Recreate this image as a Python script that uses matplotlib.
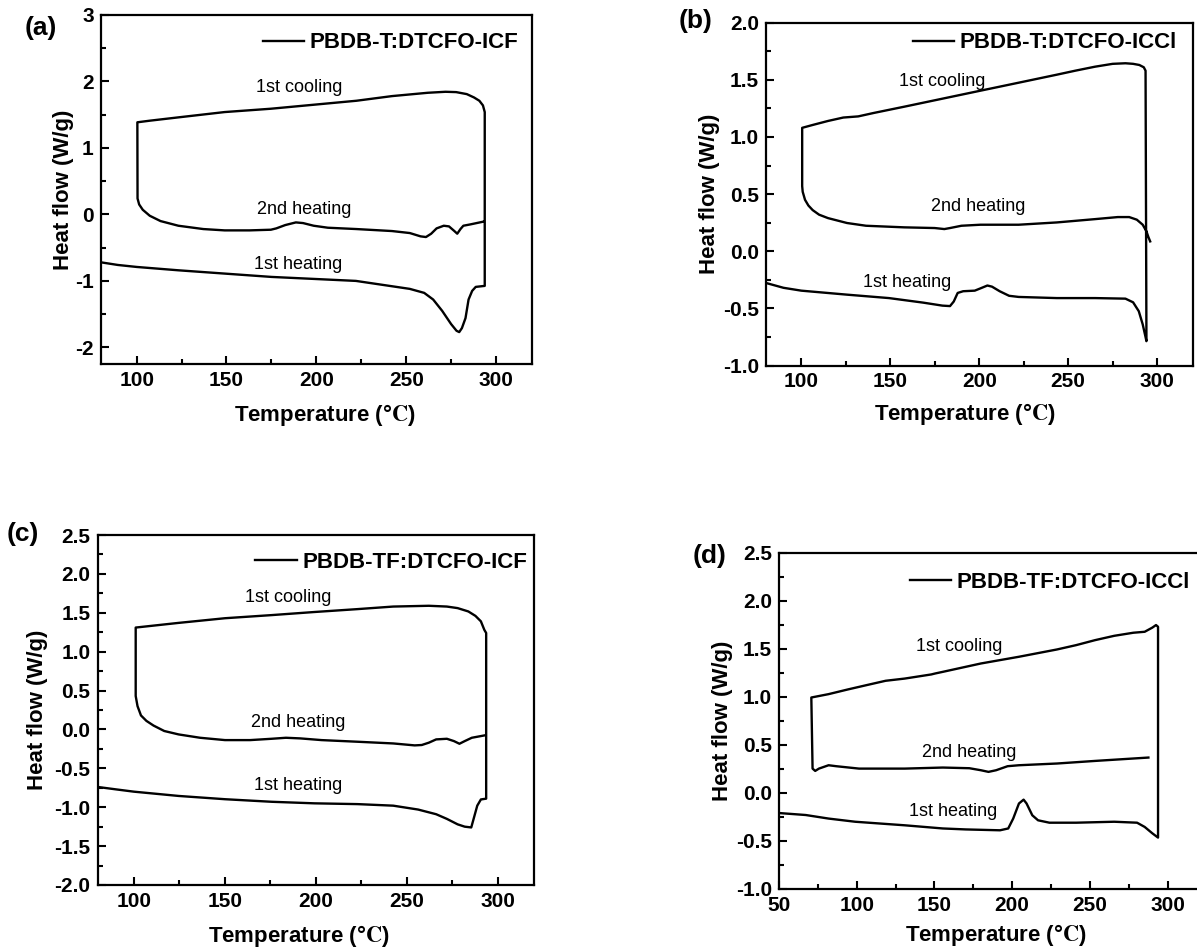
import numpy as np
import matplotlib
matplotlib.use('Agg')
import matplotlib.pyplot as plt
from matplotlib.ticker import MultipleLocator

plt.rcParams['font.family'] = ['Liberation Sans', 'DejaVu Sans']
plt.rcParams['font.weight'] = 'bold'
plt.rcParams['axes.labelweight'] = 'bold'
plt.rcParams['mathtext.fontset'] = 'stix'
plt.rcParams['axes.unicode_minus'] = False

# ---- (a) PBDB-T:DTCFO-ICF ----
a_h1_T = [80, 89.5, 100, 123, 149, 175, 198.5, 222, 242, 252, 260, 265, 270, 275, 278, 279.5, 281, 283, 284.7, 286.7, 288.7, 293.7]
a_h1_v = [-0.72, -0.76, -0.79, -0.84, -0.89, -0.94, -0.97, -1.0, -1.08, -1.12, -1.18, -1.28, -1.45, -1.65, -1.75, -1.77, -1.71, -1.56, -1.28, -1.15, -1.09, -1.075]
a_c_T = [293.7, 292.7, 290.7, 287.7, 283.7, 277.8, 271.9, 262, 242.1, 222.3, 198.5, 174.7, 149, 123.2, 107.3, 100.4]
a_c_v = [1.54, 1.64, 1.71, 1.76, 1.81, 1.84, 1.845, 1.83, 1.78, 1.71, 1.65, 1.59, 1.54, 1.46, 1.41, 1.386]
a_h2_T = [100.5, 101.4, 103.4, 107.3, 113.3, 123.2, 137.1, 149, 162.8, 174.7, 177.7, 182.7, 188.6, 192.6, 198.5, 206.4, 222.3, 242.1, 252, 258, 261, 263.9, 266.9, 270.9, 273.8, 276.8, 278.4, 280.2, 281.8, 285.7, 292.7]
a_h2_v = [0.24, 0.15, 0.07, -0.02, -0.10, -0.17, -0.22, -0.24, -0.24, -0.23, -0.21, -0.16, -0.12, -0.13, -0.17, -0.20, -0.22, -0.25, -0.28, -0.33, -0.34, -0.29, -0.21, -0.17, -0.18, -0.25, -0.29, -0.22, -0.17, -0.15, -0.11]

# ---- (b) PBDB-T:DTCFO-ICCl ----
b_h1_T = [80.7, 90, 100, 125.7, 149.3, 168.6, 179.3, 183.6, 185.7, 187.9, 191, 197.5, 200.7, 204.6, 207.2, 211.5, 216.8, 222.2, 243.6, 265.1, 282.2, 286.5, 289.7, 291.9, 293.4, 294]
b_h1_v = [-0.28, -0.32, -0.345, -0.38, -0.41, -0.45, -0.476, -0.48, -0.44, -0.365, -0.35, -0.345, -0.325, -0.30, -0.31, -0.35, -0.39, -0.40, -0.41, -0.41, -0.415, -0.447, -0.525, -0.64, -0.744, -0.787]
b_c_T = [293.5, 292.5, 290, 286.5, 282.2, 275, 265.1, 254, 243.6, 222.2, 200.7, 179.3, 157.9, 140.7, 132, 123.6, 115, 106.4, 100.5]
b_c_v = [1.58, 1.61, 1.63, 1.64, 1.645, 1.64, 1.615, 1.58, 1.545, 1.475, 1.405, 1.335, 1.265, 1.21, 1.18, 1.17, 1.14, 1.105, 1.08]
b_h2_T = [100.5, 100.8, 102.1, 104, 106.4, 110, 115, 125.7, 136.4, 157.9, 175, 180.4, 183.6, 190, 200.7, 222.2, 243.6, 265.1, 277.9, 284.3, 288.6, 291.9, 294, 295.1, 296.1]
b_h2_v = [0.57, 0.52, 0.45, 0.40, 0.36, 0.32, 0.29, 0.247, 0.223, 0.209, 0.203, 0.194, 0.203, 0.223, 0.232, 0.232, 0.252, 0.281, 0.299, 0.299, 0.276, 0.232, 0.174, 0.124, 0.086]

# ---- (c) PBDB-TF:DTCFO-ICF ----
c_h1_T = [80.3, 90, 100, 124.6, 150.1, 175.7, 199.3, 222.9, 242.6, 256.3, 266.2, 272.1, 278, 281.9, 285.5, 286.8, 288.8, 290.8, 293.7]
c_h1_v = [-0.74, -0.77, -0.80, -0.855, -0.897, -0.93, -0.95, -0.96, -0.98, -1.03, -1.09, -1.15, -1.22, -1.25, -1.26, -1.15, -0.98, -0.90, -0.89]
c_c_T = [293.7, 292.7, 290.8, 287.8, 283.9, 278, 272.1, 262.2, 242.6, 222.9, 199.3, 175.7, 150.1, 124.6, 101]
c_c_v = [1.24, 1.28, 1.39, 1.46, 1.517, 1.56, 1.58, 1.59, 1.58, 1.547, 1.51, 1.47, 1.43, 1.37, 1.31]
c_h2_T = [101, 102, 103.9, 106.9, 110.8, 116.7, 124.6, 136.4, 150.1, 163.9, 175.7, 183.6, 191.4, 203.2, 222.9, 242.6, 254.4, 258.3, 262.2, 266.2, 272.1, 276, 279, 281.9, 285.8, 292.7]
c_h2_v = [0.43, 0.30, 0.18, 0.11, 0.05, -0.02, -0.064, -0.107, -0.137, -0.137, -0.12, -0.107, -0.115, -0.137, -0.158, -0.18, -0.205, -0.20, -0.17, -0.128, -0.12, -0.15, -0.184, -0.15, -0.107, -0.077]

# ---- (d) PBDB-TF:DTCFO-ICCl ----
d_h1_T = [50.5, 67.2, 81.9, 99, 130.9, 155.4, 170.1, 192.2, 197.5, 200.7, 204.4, 207.4, 209.3, 213, 216.7, 224, 241.2, 265.7, 280.4, 285.3, 290.2, 293.9]
d_h1_v = [-0.21, -0.23, -0.267, -0.30, -0.337, -0.37, -0.38, -0.389, -0.37, -0.267, -0.11, -0.07, -0.11, -0.233, -0.285, -0.31, -0.31, -0.30, -0.31, -0.354, -0.42, -0.465]
d_c_T = [293.9, 292.6, 290.2, 285.3, 278, 265.7, 253.4, 241.2, 228.9, 204.4, 179.9, 155.4, 150.5, 148, 130.9, 118.6, 106.4, 94.1, 81.9, 70.8]
d_c_v = [1.729, 1.747, 1.72, 1.677, 1.667, 1.635, 1.59, 1.538, 1.493, 1.417, 1.347, 1.26, 1.243, 1.233, 1.19, 1.167, 1.122, 1.076, 1.028, 0.993]
d_h2_T = [71.6, 73.3, 75.7, 81.9, 86.8, 101.5, 130.9, 155.4, 172.5, 179.9, 184.8, 189.7, 197.1, 204.4, 228.9, 253.4, 287.7]
d_h2_v = [0.253, 0.229, 0.253, 0.288, 0.278, 0.253, 0.253, 0.264, 0.257, 0.236, 0.219, 0.236, 0.278, 0.288, 0.306, 0.333, 0.368]

names = ['PBDB-T:DTCFO-ICF', 'PBDB-T:DTCFO-ICCl', 'PBDB-TF:DTCFO-ICF', 'PBDB-TF:DTCFO-ICCl']
letters = ['(a)', '(b)', '(c)', '(d)']
curves = [
    (a_h1_T, a_h1_v, a_c_T, a_c_v, a_h2_T, a_h2_v),
    (b_h1_T, b_h1_v, b_c_T, b_c_v, b_h2_T, b_h2_v),
    (c_h1_T, c_h1_v, c_c_T, c_c_v, c_h2_T, c_h2_v),
    (d_h1_T, d_h1_v, d_c_T, d_c_v, d_h2_T, d_h2_v),
]
xlims = [(80, 320), (80, 320), (80, 320), (50, 320)]
ylims = [(-2.25, 3), (-1, 2), (-2, 2.5), (-1, 2.5)]
ymajor = [1, 0.5, 0.5, 0.5]
# label positions (T, value) for 1st cooling, 2nd heating, 1st heating
lab_pos = [
    [(190.6, 1.91), (193, 0.07), (189.8, -0.756)],
    [(179.3, 1.484), (199.2, 0.392), (159.4, -0.272)],
    [(184.6, 1.70), (190.5, 0.085), (190.5, -0.718)],
    [(165.7, 1.52), (172.5, 0.417), (162.3, -0.19)],
]
lab_text = ['1st cooling', '2nd heating', '1st heating']

W, H = 1197, 949
fig = plt.figure(figsize=(W / 100, H / 100), dpi=100)

# axes boxes in pixels: left, top, right, bottom
boxes = [(100.7, 15, 532, 364), (765.7, 22.7, 1192.7, 365.5),
         (97.5, 535, 534, 885), (779, 552.7, 1198.6, 889)]
legend_xy = [(518, 43), (1177, 43), (527, 562), (1190, 582)]
letter_xy = [(41, 28), (696, 21), (23, 534), (710, 556)]
xlabel_xy = [(325, 415), (965, 414), (299, 936), (996, 935)]
ylabel_x = [63.5, 710, 37.5, 722.5]

for i in range(4):
    l, t, r, b = boxes[i]
    ax = fig.add_axes([l / W, 1 - b / H, (r - l) / W, (b - t) / H])
    h1T, h1v, cT, cv, h2T, h2v = curves[i]
    ax.plot(np.concatenate([h1T, cT, h2T]), np.concatenate([h1v, cv, h2v]),
            color='black', lw=1.7, label=names[i])
    ax.set_xlim(*xlims[i])
    ax.set_ylim(*ylims[i])
    ax.xaxis.set_major_locator(MultipleLocator(50))
    ax.xaxis.set_minor_locator(MultipleLocator(25))
    ax.yaxis.set_major_locator(MultipleLocator(ymajor[i]))
    ax.yaxis.set_minor_locator(MultipleLocator(ymajor[i] / 2))
    ax.tick_params(which='both', direction='in', top=False, right=False, width=1.5)
    ax.tick_params(which='major', length=6, labelsize=15)
    ax.tick_params(which='minor', length=3.5)
    ax.tick_params(axis='x', pad=5)
    ax.tick_params(axis='y', pad=5)
    for s in ax.spines.values():
        s.set_linewidth(1.6)

    ax.set_xlabel('Temperature (°$\\mathrm{C}$)', fontsize=16, fontweight='bold')
    ax.set_ylabel('Heat flow (W/g)', fontsize=16, fontweight='bold')
    xl, yl = xlabel_xy[i]
    ax.xaxis.set_label_coords((xl - l) / (r - l), (b - yl) / (b - t))
    ax.xaxis.label.set_va('center')
    ax.yaxis.set_label_coords((ylabel_x[i] - l) / (r - l), 0.5)
    ax.yaxis.label.set_va('center')

    for (tx, ty), s in zip(lab_pos[i], lab_text):
        ax.text(tx, ty, s, fontsize=13, fontweight='normal', ha='center', va='center')

    lx, ly = legend_xy[i]
    ax.legend(loc='center right', bbox_to_anchor=(lx / W, 1 - ly / H),
              bbox_transform=fig.transFigure, frameon=False, handlelength=1.85,
              handletextpad=0.25, borderpad=0, borderaxespad=0,
              prop={'weight': 'bold', 'size': 16})

    px, py = letter_xy[i]
    fig.text(px / W, 1 - py / H, letters[i], fontsize=19, fontweight='bold',
             ha='center', va='center')

fig.savefig('out.png', dpi=100)
